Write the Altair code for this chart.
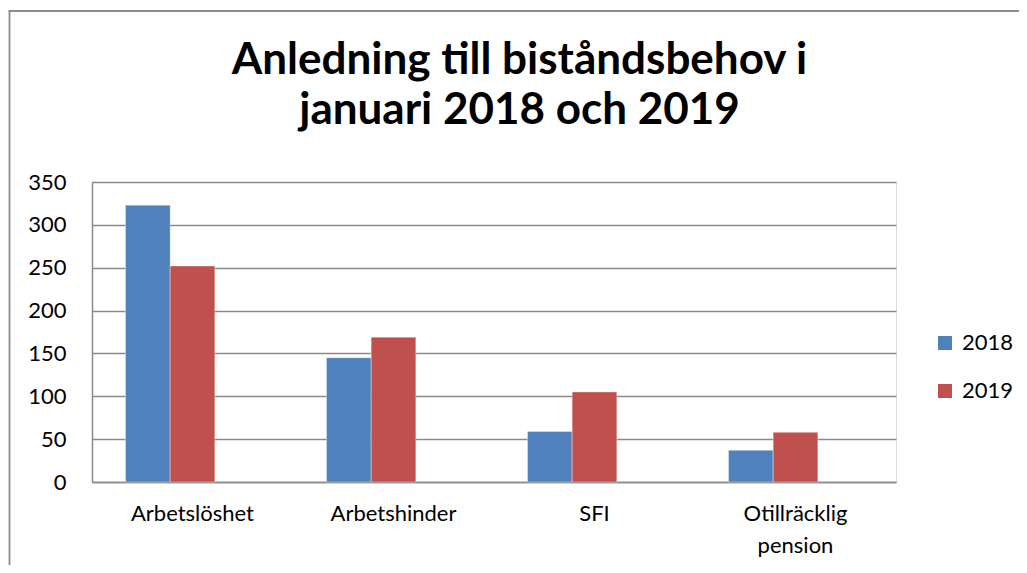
import altair as alt
import pandas as pd

categories = ["Arbetslöshet", "Arbetshinder", "SFI", "Otillräcklig pension"]
years = ["2018", "2019"]
values_2018 = [323, 145, 59, 37]
values_2019 = [252, 169, 105, 58]
colors = ["#4F81BD", "#C0504D"]
title_lines = ["Anledning till biståndsbehov i", "januari 2018 och 2019"]
y_ticks = [0, 50, 100, 150, 200, 250, 300, 350]

rows = []
for c, v in zip(categories, values_2018):
    rows.append({"kategori": c, "år": "2018", "antal": v})
for c, v in zip(categories, values_2019):
    rows.append({"kategori": c, "år": "2019", "antal": v})
df = pd.DataFrame(rows)

FONT = "Lato"
GRID = "#8a8a8a"

bars = alt.Chart(df).mark_bar(stroke="white", strokeWidth=0.6, strokeOpacity=0.6).encode(
    x=alt.X(
        "kategori:N",
        sort=categories,
        title=None,
        scale=alt.Scale(paddingInner=1 / 3, paddingOuter=1 / 6),
        axis=alt.Axis(
            labelAngle=0,
            labelFont=FONT,
            labelFontSize=22,
            labelColor="#000000",
            labelPadding=21,
            labelLineHeight=32,
            labelExpr="datum.label == 'Otillräcklig pension' ? ['Otillräcklig', 'pension'] : datum.label",
            ticks=False,
            domain=True,
            domainColor=GRID,
            domainWidth=1.5,
            grid=False,
        ),
    ),
    xOffset=alt.XOffset(
        "år:N",
        scale=alt.Scale(domain=["2018", "2019", "_"], paddingInner=0, paddingOuter=0),
    ),
    y=alt.Y(
        "antal:Q",
        title=None,
        scale=alt.Scale(domain=[0, 350], nice=False),
        axis=alt.Axis(
            values=y_ticks,
            labelFont=FONT,
            labelFontSize=22,
            labelColor="#000000",
            labelPadding=26,
            ticks=False,
            domain=True,
            domainColor=GRID,
            domainWidth=1.5,
            grid=True,
            gridColor=GRID,
            gridWidth=1.5,
        ),
    ),
    color=alt.Color(
        "år:N",
        scale=alt.Scale(domain=years, range=colors),
        legend=alt.Legend(
            title=None,
            orient="none",
            legendX=842,
            legendY=150,
            symbolType="square",
            symbolSize=196,
            symbolStrokeWidth=0,
            labelFont=FONT,
            labelFontSize=22,
            labelColor="#000000",
            labelOffset=6,
            rowPadding=26,
        ),
    ),
)

frame_df = pd.DataFrame({"k": [0]})
border_left = alt.Chart(frame_df).mark_rule(color="#8c8c8c", strokeWidth=1.8).encode(
    x=alt.value(-82.5), y=alt.value(-171), y2=alt.value(400)
)
border_top = alt.Chart(frame_df).mark_rule(color="#8c8c8c", strokeWidth=1.8).encode(
    x=alt.value(-83.4), x2=alt.value(927), y=alt.value(-171)
)

title = alt.Chart(frame_df).mark_text(
    text=title_lines,
    font=FONT,
    fontSize=44,
    fontWeight="bold",
    color="#000000",
    align="center",
    baseline="alphabetic",
    lineHeight=50,
).encode(x=alt.value(427.5), y=alt.value(-108))

chart = (
    alt.layer(border_left, border_top, title, bars)
    .properties(
        width=804,
        height=300,
        padding={"left": 84, "top": 174, "right": 123, "bottom": 83},
        autosize=alt.AutoSizeParams(type="none"),
    )
    .configure_view(stroke=None)
    .configure(background="white")
)

chart.save("out.html", embed_options={"renderer": "svg", "actions": False})
